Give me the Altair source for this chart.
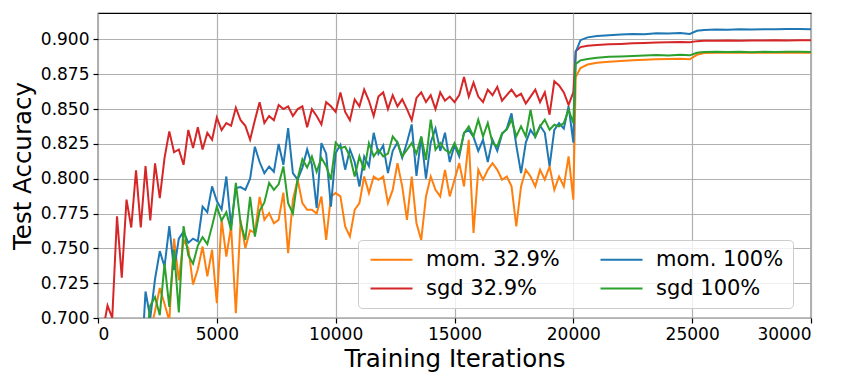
import altair as alt
import pandas as pd

# ---- data ----
ITER_A = list(range(0, 20001, 200))  # 101 iterations before the LR drop
ITER_B = [20100, 20300, 20600, 21000, 21500, 22000, 22500, 23000, 23500, 24000,
          24500, 24900, 25200, 25500, 26000, 26500, 27000, 27500, 28000, 28500,
          29000, 29500, 30000]

MOM_329_A = [
    None, None, None, None, None, None, None, None, None, None,
    None, 0.690, 0.705, 0.7215, 0.710, 0.698, 0.757, 0.727, 0.756, 0.750,
    0.724, 0.735, 0.7513, 0.730, 0.749, 0.7106, 0.7705, 0.744, 0.766, 0.7034,
    0.770, 0.750, 0.763, 0.761, 0.787, 0.7705, 0.7753, 0.768, 0.7705, 0.790,
    0.7465, 0.7849, 0.7993, 0.7825, 0.7777, 0.7777, 0.775, 0.7873, 0.756, 0.7873,
    0.7897, 0.7873, 0.7657, 0.7585, 0.7777, 0.7825, 0.8016, 0.7897, 0.8016, 0.7993,
    0.8016, 0.7825, 0.792, 0.8112, 0.7945, 0.7705, 0.8016, 0.768, 0.756, 0.7873,
    0.8016, 0.792, 0.7873, 0.8064, 0.7873, 0.7993, 0.8112, 0.7945, 0.828, 0.761,
    0.8064, 0.7993, 0.8064, 0.8112, 0.8064, 0.7993, 0.8016, 0.7945, 0.7657, 0.7945,
    0.8064, 0.8016, 0.7945, 0.8064, 0.7993, 0.8088, 0.792, 0.8016, 0.7945, 0.816,
    0.785,
]
SGD_329_A = [
    0.660, 0.690, 0.709, 0.700, 0.773, 0.729, 0.785, 0.765, 0.806, 0.765,
    0.809, 0.770, 0.811, 0.786, 0.815, 0.834, 0.819, 0.821, 0.810, 0.835,
    0.822, 0.837, 0.821, 0.833, 0.828, 0.844, 0.835, 0.840, 0.838, 0.851,
    0.842, 0.838, 0.828, 0.842, 0.855, 0.840, 0.845, 0.842, 0.853, 0.850,
    0.852, 0.845, 0.850, 0.852, 0.837, 0.850, 0.845, 0.839, 0.855, 0.852,
    0.848, 0.862, 0.848, 0.842, 0.857, 0.852, 0.864, 0.856, 0.845, 0.859,
    0.862, 0.850, 0.860, 0.852, 0.857, 0.850, 0.842, 0.858, 0.862, 0.855,
    0.860, 0.850, 0.862, 0.856, 0.859, 0.855, 0.860, 0.873, 0.859, 0.869,
    0.859, 0.855, 0.864, 0.860, 0.866, 0.856, 0.860, 0.864, 0.859, 0.861,
    0.854, 0.859, 0.864, 0.855, 0.862, 0.846, 0.870, 0.867, 0.862, 0.853,
    0.862,
]
MOM_100_A = [
    None, None, None, None, None, None, None, None, None, 0.660,
    0.719, 0.700, 0.728, 0.748, 0.737, 0.766, 0.7345, 0.757, 0.762, 0.754,
    0.757, 0.755, 0.780, 0.776, 0.7945, 0.784, 0.778, 0.8016, 0.766, 0.7933,
    0.794, 0.792, 0.800, 0.823, 0.812, 0.804, 0.8088, 0.805, 0.825, 0.810,
    0.8364, 0.804, 0.7993, 0.808, 0.821, 0.810, 0.779, 0.8256, 0.818, 0.780,
    0.8185, 0.8244, 0.8065, 0.821, 0.812, 0.7944, 0.816, 0.809, 0.833, 0.818,
    0.824, 0.804, 0.820, 0.826, 0.815, 0.826, 0.839, 0.802, 0.830, 0.800,
    0.826, 0.836, 0.820, 0.833, 0.812, 0.824, 0.816, 0.833, 0.835, 0.830,
    0.820, 0.828, 0.812, 0.828, 0.820, 0.832, 0.836, 0.847, 0.824, 0.804,
    0.826, 0.835, 0.830, 0.838, 0.833, 0.809, 0.835, 0.840, 0.836, 0.852,
    0.826,
]
SGD_100_A = [
    None, None, None, None, None, None, None, None, None, None,
    0.680, 0.709, 0.715, 0.702, 0.739, 0.708, 0.749, 0.704, 0.766, 0.745,
    0.739, 0.752, 0.758, 0.753, 0.766, 0.780, 0.770, 0.776, 0.763, 0.797,
    0.768, 0.756, 0.787, 0.7585, 0.777, 0.783, 0.797, 0.792, 0.796, 0.8088,
    0.7825, 0.775, 0.800, 0.814, 0.808, 0.816, 0.805, 0.815, 0.809, 0.7993,
    0.826, 0.822, 0.823, 0.816, 0.8016, 0.816, 0.806, 0.8256, 0.816, 0.8208,
    0.816, 0.818, 0.8304, 0.826, 0.816, 0.8208, 0.8256, 0.818, 0.8304, 0.8136,
    0.8424, 0.8208, 0.8256, 0.8208, 0.8184, 0.8256, 0.818, 0.8328, 0.8376, 0.8304,
    0.8424, 0.8304, 0.840, 0.8256, 0.8232, 0.8328, 0.8352, 0.8424, 0.8304, 0.8376,
    0.8304, 0.8496, 0.8304, 0.8376, 0.8424, 0.8352, 0.8388, 0.8376, 0.840, 0.8496,
    0.840,
]

MOM_329_B = [0.8730, 0.8795, 0.8820, 0.8832, 0.8840, 0.8845, 0.8850, 0.8855, 0.8858, 0.8860,
             0.8862, 0.8858, 0.8890, 0.8903, 0.8905, 0.8906, 0.8905, 0.8906, 0.8904, 0.8905,
             0.8906, 0.8905, 0.8905]
SGD_329_B = [0.8915, 0.8945, 0.8955, 0.8960, 0.8965, 0.8968, 0.8972, 0.8975, 0.8978, 0.8980,
             0.8982, 0.8980, 0.8988, 0.8990, 0.8990, 0.8992, 0.8991, 0.8993, 0.8992, 0.8994,
             0.8993, 0.8995, 0.8994]
MOM_100_B = [0.8910, 0.8995, 0.9015, 0.9025, 0.9030, 0.9035, 0.9040, 0.9037, 0.9045, 0.9042,
             0.9046, 0.9040, 0.9062, 0.9068, 0.9072, 0.9070, 0.9073, 0.9071, 0.9074, 0.9073,
             0.9075, 0.9076, 0.9074]
SGD_100_B = [0.8825, 0.8850, 0.8860, 0.8868, 0.8875, 0.8878, 0.8882, 0.8885, 0.8888, 0.8884,
             0.8890, 0.8886, 0.8905, 0.8910, 0.8912, 0.8910, 0.8911, 0.8909, 0.8911, 0.8910,
             0.8912, 0.8911, 0.8910]

SERIES = ["mom. 32.9%", "sgd 32.9%", "mom. 100%", "sgd 100%"]  # drawing & legend order
COLORS = ["#ff7f0e", "#d62728", "#1f77b4", "#2ca02c"]
VALUES = [MOM_329_A + MOM_329_B, SGD_329_A + SGD_329_B,
          MOM_100_A + MOM_100_B, SGD_100_A + SGD_100_B]
X_TICKS = [0, 5000, 10000, 15000, 20000, 25000, 30000]
Y_TICKS = [0.700, 0.725, 0.750, 0.775, 0.800, 0.825, 0.850, 0.875, 0.900]

iters = ITER_A + ITER_B
rows = []
for name, vals in zip(SERIES, VALUES):
    for it, v in zip(iters, vals):
        rows.append({"iter": it, "acc": v, "series": name})
df = pd.DataFrame(rows)

color_scale = alt.Scale(domain=SERIES, range=COLORS)

FONT = "DejaVu Sans"

x_enc = alt.X(
    "iter:Q",
    scale=alt.Scale(domain=[0, 30000], nice=False, zero=False),
    axis=alt.Axis(values=X_TICKS, format="d", title="Training Iterations",
                  labelFontSize=17, titleFontSize=24.5, titlePadding=5, labelPadding=3),
)
y_enc = alt.Y(
    "acc:Q",
    scale=alt.Scale(domain=[0.7, 0.919], nice=False, zero=False),
    axis=alt.Axis(values=Y_TICKS, format=".3f", title="Test Accuracy",
                  labelFontSize=17, titleFontSize=24.5, titlePadding=5, labelPadding=4),
)

legend = alt.Legend(
    orient="none", legendX=260, legendY=227, columns=2, title=None,
    symbolType="M-1,0L5,0", symbolStrokeWidth=2, symbolSize=196,
    labelFontSize=21, labelFont=FONT, labelColor="black", labelOffset=38,
    fillColor="rgba(255,255,255,0.8)", strokeColor="#cccccc", cornerRadius=4,
    padding=9, columnPadding=36, rowPadding=7,
)

layers = []
for name in SERIES:
    layers.append(
        alt.Chart(df)
        .transform_filter(alt.FieldEqualPredicate(field="series", equal=name))
        .mark_line(clip=True, strokeWidth=2)
        .encode(x=x_enc, y=y_enc,
                color=alt.Color("series:N", scale=color_scale, legend=legend))
    )

chart = (
    alt.layer(*layers)
    .properties(width=713, height=305,
                padding={"left": 90, "top": 5, "right": 30, "bottom": 60},
                autosize=alt.AutoSizeParams(type="none"))
    .configure_view(stroke="black", strokeWidth=1.2)
    .configure_axis(labelFont=FONT, titleFont=FONT, labelColor="black", titleColor="black",
                    titleFontWeight="normal", tickColor="black", tickSize=5, tickWidth=1.2,
                    domain=False, gridColor="#b0b0b0", gridWidth=1.2)
)

chart.save("out.html", embed_options={"renderer": "svg", "actions": False})
